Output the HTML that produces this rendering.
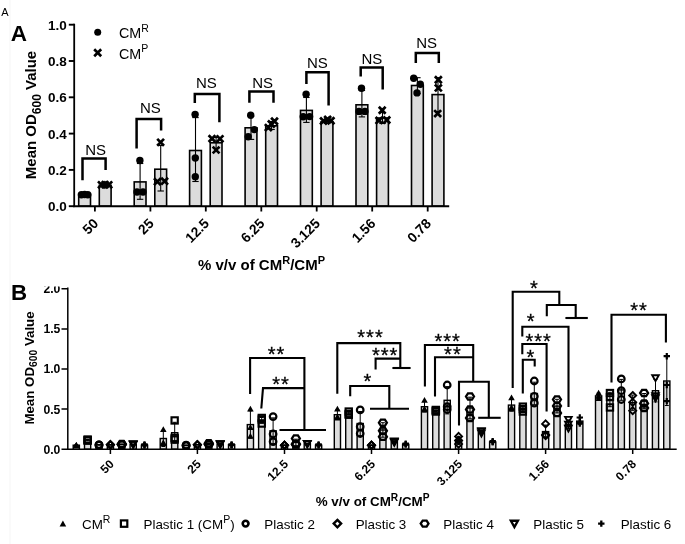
<!DOCTYPE html>
<html lang="en"><head><meta charset="utf-8"><title>Figure</title>
<style>html,body{margin:0;padding:0;background:#fff;}svg{display:block;}text{font-family:"Liberation Sans", Arial, sans-serif;fill:#000;}</style></head><body>
<svg width="685" height="544" viewBox="0 0 685 544">
<rect width="685" height="544" fill="#fff"/>
<rect x="9" y="0" width="2" height="544" fill="#fafafa"/>
<text x="1.2" y="16.2" font-size="11" font-weight="normal" text-anchor="start">A</text>
<text x="10.7" y="41.0" font-size="22.5" font-weight="bold" text-anchor="start">A</text>
<text x="36.3" y="115" font-size="15" font-weight="bold" text-anchor="middle" transform="rotate(-90 36.3 115)">Mean OD<tspan font-size="12" dy="4.3">600</tspan><tspan dy="-4.3" font-size="1">&#8203;</tspan> Value</text>
<path d="M68.8 206.2L74.2 206.2" stroke="#000" stroke-width="1.9" fill="none"/>
<text x="66.9" y="211.1" font-size="13.5" font-weight="bold" text-anchor="end">0.0</text>
<path d="M68.8 169.9L74.2 169.9" stroke="#000" stroke-width="1.9" fill="none"/>
<text x="66.9" y="174.8" font-size="13.5" font-weight="bold" text-anchor="end">0.2</text>
<path d="M68.8 133.6L74.2 133.6" stroke="#000" stroke-width="1.9" fill="none"/>
<text x="66.9" y="138.5" font-size="13.5" font-weight="bold" text-anchor="end">0.4</text>
<path d="M68.8 97.3L74.2 97.3" stroke="#000" stroke-width="1.9" fill="none"/>
<text x="66.9" y="102.2" font-size="13.5" font-weight="bold" text-anchor="end">0.6</text>
<path d="M68.8 61.0L74.2 61.0" stroke="#000" stroke-width="1.9" fill="none"/>
<text x="66.9" y="65.9" font-size="13.5" font-weight="bold" text-anchor="end">0.8</text>
<path d="M68.8 24.7L74.2 24.7" stroke="#000" stroke-width="1.9" fill="none"/>
<text x="66.9" y="29.6" font-size="13.5" font-weight="bold" text-anchor="end">1.0</text>
<path d="M94.9 206.2L94.9 211.5" stroke="#000" stroke-width="1.8" fill="none"/>
<text x="99.1" y="224.4" font-size="13.8" font-weight="bold" text-anchor="end" transform="rotate(-45 99.1 224.4)">50</text>
<path d="M150.4 206.2L150.4 211.5" stroke="#000" stroke-width="1.8" fill="none"/>
<text x="154.6" y="224.4" font-size="13.8" font-weight="bold" text-anchor="end" transform="rotate(-45 154.6 224.4)">25</text>
<path d="M205.8 206.2L205.8 211.5" stroke="#000" stroke-width="1.8" fill="none"/>
<text x="210.0" y="224.4" font-size="13.8" font-weight="bold" text-anchor="end" transform="rotate(-45 210.0 224.4)">12.5</text>
<path d="M261.3 206.2L261.3 211.5" stroke="#000" stroke-width="1.8" fill="none"/>
<text x="265.5" y="224.4" font-size="13.8" font-weight="bold" text-anchor="end" transform="rotate(-45 265.5 224.4)">6.25</text>
<path d="M316.7 206.2L316.7 211.5" stroke="#000" stroke-width="1.8" fill="none"/>
<text x="320.9" y="224.4" font-size="13.8" font-weight="bold" text-anchor="end" transform="rotate(-45 320.9 224.4)">3.125</text>
<path d="M372.2 206.2L372.2 211.5" stroke="#000" stroke-width="1.8" fill="none"/>
<text x="376.4" y="224.4" font-size="13.8" font-weight="bold" text-anchor="end" transform="rotate(-45 376.4 224.4)">1.56</text>
<path d="M427.7 206.2L427.7 211.5" stroke="#000" stroke-width="1.8" fill="none"/>
<text x="431.9" y="224.4" font-size="13.8" font-weight="bold" text-anchor="end" transform="rotate(-45 431.9 224.4)">0.78</text>
<rect x="78.7" y="194.4" width="11.8" height="11.8" fill="#dcdcdc" stroke="#000" stroke-width="1.6"/>
<rect x="99.3" y="185.3" width="11.8" height="20.9" fill="#dcdcdc" stroke="#000" stroke-width="1.6"/>
<rect x="134.2" y="181.9" width="11.8" height="24.3" fill="#dcdcdc" stroke="#000" stroke-width="1.6"/>
<rect x="154.8" y="169.2" width="11.8" height="37.0" fill="#dcdcdc" stroke="#000" stroke-width="1.6"/>
<rect x="189.6" y="150.5" width="11.8" height="55.7" fill="#dcdcdc" stroke="#000" stroke-width="1.6"/>
<rect x="210.2" y="142.8" width="11.8" height="63.4" fill="#dcdcdc" stroke="#000" stroke-width="1.6"/>
<rect x="245.1" y="127.8" width="11.8" height="78.4" fill="#dcdcdc" stroke="#000" stroke-width="1.6"/>
<rect x="265.7" y="125.8" width="11.8" height="80.4" fill="#dcdcdc" stroke="#000" stroke-width="1.6"/>
<rect x="300.5" y="110.4" width="11.8" height="95.8" fill="#dcdcdc" stroke="#000" stroke-width="1.6"/>
<rect x="321.1" y="121.8" width="11.8" height="84.4" fill="#dcdcdc" stroke="#000" stroke-width="1.6"/>
<rect x="356.0" y="104.8" width="11.8" height="101.4" fill="#dcdcdc" stroke="#000" stroke-width="1.6"/>
<rect x="376.6" y="118.0" width="11.8" height="88.2" fill="#dcdcdc" stroke="#000" stroke-width="1.6"/>
<rect x="411.5" y="85.5" width="11.8" height="120.7" fill="#dcdcdc" stroke="#000" stroke-width="1.6"/>
<rect x="432.1" y="94.6" width="11.8" height="111.6" fill="#dcdcdc" stroke="#000" stroke-width="1.6"/>
<path d="M84.6 193.4L84.6 195.6" stroke="#000" stroke-width="1.1" fill="none"/>
<path d="M81.4 193.4L87.8 193.4" stroke="#000" stroke-width="1.1" fill="none"/>
<path d="M81.4 195.6L87.8 195.6" stroke="#000" stroke-width="1.1" fill="none"/>
<path d="M105.2 184.2L105.2 186.4" stroke="#000" stroke-width="1.1" fill="none"/>
<path d="M102.0 184.2L108.4 184.2" stroke="#000" stroke-width="1.1" fill="none"/>
<path d="M102.0 186.4L108.4 186.4" stroke="#000" stroke-width="1.1" fill="none"/>
<path d="M140.1 163.5L140.1 199.3" stroke="#000" stroke-width="1.1" fill="none"/>
<path d="M136.9 163.5L143.3 163.5" stroke="#000" stroke-width="1.1" fill="none"/>
<path d="M136.9 199.3L143.3 199.3" stroke="#000" stroke-width="1.1" fill="none"/>
<path d="M160.7 145.5L160.7 191.0" stroke="#000" stroke-width="1.1" fill="none"/>
<path d="M157.5 145.5L163.9 145.5" stroke="#000" stroke-width="1.1" fill="none"/>
<path d="M157.5 191.0L163.9 191.0" stroke="#000" stroke-width="1.1" fill="none"/>
<path d="M195.5 117.6L195.5 181.5" stroke="#000" stroke-width="1.1" fill="none"/>
<path d="M192.3 117.6L198.7 117.6" stroke="#000" stroke-width="1.1" fill="none"/>
<path d="M192.3 181.5L198.7 181.5" stroke="#000" stroke-width="1.1" fill="none"/>
<path d="M216.1 137.5L216.1 148.5" stroke="#000" stroke-width="1.1" fill="none"/>
<path d="M212.9 137.5L219.3 137.5" stroke="#000" stroke-width="1.1" fill="none"/>
<path d="M212.9 148.5L219.3 148.5" stroke="#000" stroke-width="1.1" fill="none"/>
<path d="M251.0 116.5L251.0 139.4" stroke="#000" stroke-width="1.1" fill="none"/>
<path d="M247.8 116.5L254.2 116.5" stroke="#000" stroke-width="1.1" fill="none"/>
<path d="M247.8 139.4L254.2 139.4" stroke="#000" stroke-width="1.1" fill="none"/>
<path d="M271.6 121.5L271.6 129.5" stroke="#000" stroke-width="1.1" fill="none"/>
<path d="M268.4 121.5L274.8 121.5" stroke="#000" stroke-width="1.1" fill="none"/>
<path d="M268.4 129.5L274.8 129.5" stroke="#000" stroke-width="1.1" fill="none"/>
<path d="M306.4 97.5L306.4 122.4" stroke="#000" stroke-width="1.1" fill="none"/>
<path d="M303.2 97.5L309.6 97.5" stroke="#000" stroke-width="1.1" fill="none"/>
<path d="M303.2 122.4L309.6 122.4" stroke="#000" stroke-width="1.1" fill="none"/>
<path d="M327.0 120.2L327.0 123.4" stroke="#000" stroke-width="1.1" fill="none"/>
<path d="M323.8 120.2L330.2 120.2" stroke="#000" stroke-width="1.1" fill="none"/>
<path d="M323.8 123.4L330.2 123.4" stroke="#000" stroke-width="1.1" fill="none"/>
<path d="M361.9 90.5L361.9 116.9" stroke="#000" stroke-width="1.1" fill="none"/>
<path d="M358.7 90.5L365.1 90.5" stroke="#000" stroke-width="1.1" fill="none"/>
<path d="M358.7 116.9L365.1 116.9" stroke="#000" stroke-width="1.1" fill="none"/>
<path d="M382.5 112.5L382.5 123.5" stroke="#000" stroke-width="1.1" fill="none"/>
<path d="M379.3 112.5L385.7 112.5" stroke="#000" stroke-width="1.1" fill="none"/>
<path d="M379.3 123.5L385.7 123.5" stroke="#000" stroke-width="1.1" fill="none"/>
<path d="M417.4 77.7L417.4 93.5" stroke="#000" stroke-width="1.1" fill="none"/>
<path d="M414.2 77.7L420.6 77.7" stroke="#000" stroke-width="1.1" fill="none"/>
<path d="M414.2 93.5L420.6 93.5" stroke="#000" stroke-width="1.1" fill="none"/>
<path d="M438.0 77.7L438.0 111.5" stroke="#000" stroke-width="1.1" fill="none"/>
<path d="M434.8 77.7L441.2 77.7" stroke="#000" stroke-width="1.1" fill="none"/>
<path d="M434.8 111.5L441.2 111.5" stroke="#000" stroke-width="1.1" fill="none"/>
<circle cx="81.4" cy="194.7" r="3.7" fill="#000"/>
<circle cx="84.6" cy="194.5" r="3.7" fill="#000"/>
<circle cx="87.8" cy="194.7" r="3.7" fill="#000"/>
<path d="M98.0 181.4L105.0 188.2M98.0 188.2L105.0 181.4" stroke="#000" stroke-width="2.7" fill="none"/>
<path d="M101.6 181.2L108.5 188.0M101.6 188.0L108.5 181.2" stroke="#000" stroke-width="2.7" fill="none"/>
<path d="M105.2 181.4L112.2 188.2M105.2 188.2L112.2 181.4" stroke="#000" stroke-width="2.7" fill="none"/>
<circle cx="139.9" cy="160.5" r="3.7" fill="#000"/>
<circle cx="137.0" cy="192.0" r="3.7" fill="#000"/>
<circle cx="143.0" cy="192.0" r="3.7" fill="#000"/>
<path d="M157.2 138.9L164.0 145.8M157.2 145.8L164.0 138.9" stroke="#000" stroke-width="2.7" fill="none"/>
<path d="M154.0 178.2L160.8 185.1M154.0 185.1L160.8 178.2" stroke="#000" stroke-width="2.7" fill="none"/>
<path d="M161.2 177.8L168.0 184.6M161.2 184.6L168.0 177.8" stroke="#000" stroke-width="2.7" fill="none"/>
<circle cx="195.1" cy="114.4" r="3.7" fill="#000"/>
<circle cx="195.3" cy="158.0" r="3.7" fill="#000"/>
<circle cx="195.3" cy="176.8" r="3.7" fill="#000"/>
<path d="M208.6 135.2L215.4 142.0M208.6 142.0L215.4 135.2" stroke="#000" stroke-width="2.7" fill="none"/>
<path d="M216.6 135.4L223.4 142.2M216.6 142.2L223.4 135.4" stroke="#000" stroke-width="2.7" fill="none"/>
<path d="M212.7 146.6L219.5 153.4M212.7 153.4L219.5 146.6" stroke="#000" stroke-width="2.7" fill="none"/>
<circle cx="250.7" cy="115.2" r="3.7" fill="#000"/>
<circle cx="254.3" cy="129.6" r="3.7" fill="#000"/>
<circle cx="248.2" cy="136.8" r="3.7" fill="#000"/>
<path d="M264.9 124.1L271.8 131.0M264.9 131.0L271.8 124.1" stroke="#000" stroke-width="2.7" fill="none"/>
<path d="M267.9 120.5L274.8 127.5M267.9 127.5L274.8 120.5" stroke="#000" stroke-width="2.7" fill="none"/>
<path d="M271.1 117.8L277.9 124.8M271.1 124.8L277.9 117.8" stroke="#000" stroke-width="2.7" fill="none"/>
<circle cx="306.1" cy="94.3" r="3.7" fill="#000"/>
<circle cx="303.2" cy="116.8" r="3.7" fill="#000"/>
<circle cx="309.6" cy="116.6" r="3.7" fill="#000"/>
<path d="M320.1 117.5L326.9 124.5M320.1 124.5L326.9 117.5" stroke="#000" stroke-width="2.7" fill="none"/>
<path d="M324.2 116.0L331.1 122.9M324.2 122.9L331.1 116.0" stroke="#000" stroke-width="2.7" fill="none"/>
<path d="M327.6 117.3L334.4 124.2M327.6 124.2L334.4 117.3" stroke="#000" stroke-width="2.7" fill="none"/>
<circle cx="361.5" cy="88.3" r="3.7" fill="#000"/>
<circle cx="359.0" cy="111.4" r="3.7" fill="#000"/>
<circle cx="364.9" cy="111.4" r="3.7" fill="#000"/>
<path d="M378.8 106.8L385.6 113.8M378.8 113.8L385.6 106.8" stroke="#000" stroke-width="2.7" fill="none"/>
<path d="M375.6 117.0L382.4 123.9M375.6 123.9L382.4 117.0" stroke="#000" stroke-width="2.7" fill="none"/>
<path d="M383.4 116.5L390.2 123.5M383.4 123.5L390.2 116.5" stroke="#000" stroke-width="2.7" fill="none"/>
<circle cx="413.7" cy="78.3" r="3.7" fill="#000"/>
<circle cx="420.3" cy="84.3" r="3.7" fill="#000"/>
<circle cx="417.0" cy="92.9" r="3.7" fill="#000"/>
<path d="M434.9 76.2L441.8 83.2M434.9 83.2L441.8 76.2" stroke="#000" stroke-width="2.7" fill="none"/>
<path d="M434.9 84.5L441.8 91.4M434.9 91.4L441.8 84.5" stroke="#000" stroke-width="2.7" fill="none"/>
<path d="M434.2 110.1L441.1 117.0M434.2 117.0L441.1 110.1" stroke="#000" stroke-width="2.7" fill="none"/>
<path d="M74.2 23.7L74.2 207.1" stroke="#000" stroke-width="1.8" fill="none"/>
<path d="M73.3 206.2L449.2 206.2" stroke="#000" stroke-width="1.9" fill="none"/>
<text x="198" y="270" font-size="15" font-weight="bold">% v/v of CM<tspan font-size="11" dy="-6">R</tspan><tspan dy="6" font-size="1">&#8203;</tspan>/CM<tspan font-size="11" dy="-6">P</tspan><tspan dy="6" font-size="1">&#8203;</tspan></text>
<circle cx="97.7" cy="32.3" r="3.5" fill="#000"/>
<path d="M94.2 49.3L101.2 56.2M94.2 56.2L101.2 49.3" stroke="#000" stroke-width="2.7" fill="none"/>
<text x="119" y="38.2" font-size="14.3">CM<tspan font-size="10.5" dy="-6.3">R</tspan><tspan dy="6.3" font-size="1">&#8203;</tspan></text>
<text x="119" y="58.7" font-size="14.3">CM<tspan font-size="10.5" dy="-6.3">P</tspan><tspan dy="6.3" font-size="1">&#8203;</tspan></text>
<path d="M82.5 180.2L82.5 158.4L105.6 158.4L105.6 170.1" stroke="#000" stroke-width="2.5" fill="none" stroke-linejoin="miter"/>
<text x="95.7" y="154.9" font-size="15" font-weight="normal" text-anchor="middle">NS</text>
<path d="M136.6 148.4L136.6 119.0L161.1 119.0L161.1 130.4" stroke="#000" stroke-width="2.5" fill="none" stroke-linejoin="miter"/>
<text x="150.3" y="113.4" font-size="15" font-weight="normal" text-anchor="middle">NS</text>
<path d="M194.8 103.1L194.8 94.1L219.4 94.1L219.4 122.2" stroke="#000" stroke-width="2.5" fill="none" stroke-linejoin="miter"/>
<text x="206.3" y="87.9" font-size="15" font-weight="normal" text-anchor="middle">NS</text>
<path d="M249.4 102.7L249.4 91.6L273.5 91.6L273.5 102.7" stroke="#000" stroke-width="2.5" fill="none" stroke-linejoin="miter"/>
<text x="262.6" y="87.6" font-size="15" font-weight="normal" text-anchor="middle">NS</text>
<path d="M306.4 83.9L306.4 72.2L328.6 72.2L328.6 105.6" stroke="#000" stroke-width="2.5" fill="none" stroke-linejoin="miter"/>
<text x="317.3" y="67.8" font-size="15" font-weight="normal" text-anchor="middle">NS</text>
<path d="M360.7 76.4L360.7 67.6L382.7 67.6L382.7 89.6" stroke="#000" stroke-width="2.5" fill="none" stroke-linejoin="miter"/>
<text x="371.8" y="63.5" font-size="15" font-weight="normal" text-anchor="middle">NS</text>
<path d="M415.8 63.1L415.8 52.9L438.8 52.9L438.8 63.1" stroke="#000" stroke-width="2.5" fill="none" stroke-linejoin="miter"/>
<text x="426.6" y="48.2" font-size="15" font-weight="normal" text-anchor="middle">NS</text>
<g clip-path="url(#clipB)">
<defs><clipPath id="clipB"><rect x="0" y="286.6" width="685" height="260"/></clipPath></defs>
<path d="M61.5 449.2L67.8 449.2" stroke="#000" stroke-width="1.5" fill="none"/>
<text x="60.4" y="453.6" font-size="12.2" font-weight="bold" text-anchor="end">0.0</text>
<path d="M61.5 409.1L67.8 409.1" stroke="#000" stroke-width="1.5" fill="none"/>
<text x="60.4" y="413.5" font-size="12.2" font-weight="bold" text-anchor="end">0.5</text>
<path d="M61.5 369.0L67.8 369.0" stroke="#000" stroke-width="1.5" fill="none"/>
<text x="60.4" y="373.4" font-size="12.2" font-weight="bold" text-anchor="end">1.0</text>
<path d="M61.5 328.9L67.8 328.9" stroke="#000" stroke-width="1.5" fill="none"/>
<text x="60.4" y="333.3" font-size="12.2" font-weight="bold" text-anchor="end">1.5</text>
<path d="M61.5 288.8L67.8 288.8" stroke="#000" stroke-width="1.5" fill="none"/>
<text x="60.4" y="293.2" font-size="12.2" font-weight="bold" text-anchor="end">2.0</text>
</g>
<text x="10.9" y="300.4" font-size="22.3" font-weight="bold" text-anchor="start">B</text>
<text x="33.7" y="368" font-size="13.3" font-weight="bold" text-anchor="middle" transform="rotate(-90 33.7 368)">Mean OD<tspan font-size="10.3" dy="3.2">600</tspan><tspan dy="-3.2" font-size="1">&#8203;</tspan> Value</text>
<path d="M110.4 449.2L110.4 454.0" stroke="#000" stroke-width="1.5" fill="none"/>
<text x="114.8" y="464.9" font-size="12" font-weight="bold" text-anchor="end" transform="rotate(-45 114.8 464.9)">50</text>
<path d="M197.4 449.2L197.4 454.0" stroke="#000" stroke-width="1.5" fill="none"/>
<text x="201.8" y="464.9" font-size="12" font-weight="bold" text-anchor="end" transform="rotate(-45 201.8 464.9)">25</text>
<path d="M284.5 449.2L284.5 454.0" stroke="#000" stroke-width="1.5" fill="none"/>
<text x="288.9" y="464.9" font-size="12" font-weight="bold" text-anchor="end" transform="rotate(-45 288.9 464.9)">12.5</text>
<path d="M371.5 449.2L371.5 454.0" stroke="#000" stroke-width="1.5" fill="none"/>
<text x="375.9" y="464.9" font-size="12" font-weight="bold" text-anchor="end" transform="rotate(-45 375.9 464.9)">6.25</text>
<path d="M458.6 449.2L458.6 454.0" stroke="#000" stroke-width="1.5" fill="none"/>
<text x="463.0" y="464.9" font-size="12" font-weight="bold" text-anchor="end" transform="rotate(-45 463.0 464.9)">3.125</text>
<path d="M545.6 449.2L545.6 454.0" stroke="#000" stroke-width="1.5" fill="none"/>
<text x="550.0" y="464.9" font-size="12" font-weight="bold" text-anchor="end" transform="rotate(-45 550.0 464.9)">1.56</text>
<path d="M632.7 449.2L632.7 454.0" stroke="#000" stroke-width="1.5" fill="none"/>
<text x="637.1" y="464.9" font-size="12" font-weight="bold" text-anchor="end" transform="rotate(-45 637.1 464.9)">0.78</text>
<rect x="73.2" y="445.2" width="6.2" height="4.0" fill="#dcdcdc" stroke="#000" stroke-width="1.4"/>
<rect x="84.5" y="440.1" width="6.2" height="9.1" fill="#dcdcdc" stroke="#000" stroke-width="1.4"/>
<rect x="95.9" y="444.8" width="6.2" height="4.4" fill="#dcdcdc" stroke="#000" stroke-width="1.4"/>
<rect x="107.3" y="444.8" width="6.2" height="4.4" fill="#dcdcdc" stroke="#000" stroke-width="1.4"/>
<rect x="118.7" y="444.4" width="6.2" height="4.8" fill="#dcdcdc" stroke="#000" stroke-width="1.4"/>
<rect x="130.1" y="444.4" width="6.2" height="4.8" fill="#dcdcdc" stroke="#000" stroke-width="1.4"/>
<rect x="141.4" y="445.2" width="6.2" height="4.0" fill="#dcdcdc" stroke="#000" stroke-width="1.4"/>
<rect x="160.2" y="438.5" width="6.2" height="10.7" fill="#dcdcdc" stroke="#000" stroke-width="1.4"/>
<rect x="171.6" y="432.7" width="6.2" height="16.5" fill="#dcdcdc" stroke="#000" stroke-width="1.4"/>
<rect x="183.0" y="445.4" width="6.2" height="3.8" fill="#dcdcdc" stroke="#000" stroke-width="1.4"/>
<rect x="194.3" y="444.7" width="6.2" height="4.5" fill="#dcdcdc" stroke="#000" stroke-width="1.4"/>
<rect x="205.7" y="443.7" width="6.2" height="5.5" fill="#dcdcdc" stroke="#000" stroke-width="1.4"/>
<rect x="217.1" y="444.0" width="6.2" height="5.2" fill="#dcdcdc" stroke="#000" stroke-width="1.4"/>
<rect x="228.5" y="444.7" width="6.2" height="4.5" fill="#dcdcdc" stroke="#000" stroke-width="1.4"/>
<rect x="247.3" y="424.6" width="6.2" height="24.6" fill="#dcdcdc" stroke="#000" stroke-width="1.4"/>
<rect x="258.6" y="420.3" width="6.2" height="28.9" fill="#dcdcdc" stroke="#000" stroke-width="1.4"/>
<rect x="270.0" y="430.8" width="6.2" height="18.4" fill="#dcdcdc" stroke="#000" stroke-width="1.4"/>
<rect x="281.4" y="445.2" width="6.2" height="4.0" fill="#dcdcdc" stroke="#000" stroke-width="1.4"/>
<rect x="292.8" y="442.4" width="6.2" height="6.8" fill="#dcdcdc" stroke="#000" stroke-width="1.4"/>
<rect x="304.2" y="443.6" width="6.2" height="5.6" fill="#dcdcdc" stroke="#000" stroke-width="1.4"/>
<rect x="315.5" y="445.2" width="6.2" height="4.0" fill="#dcdcdc" stroke="#000" stroke-width="1.4"/>
<rect x="334.3" y="414.7" width="6.2" height="34.5" fill="#dcdcdc" stroke="#000" stroke-width="1.4"/>
<rect x="345.7" y="413.1" width="6.2" height="36.1" fill="#dcdcdc" stroke="#000" stroke-width="1.4"/>
<rect x="357.1" y="423.5" width="6.2" height="25.7" fill="#dcdcdc" stroke="#000" stroke-width="1.4"/>
<rect x="368.4" y="445.2" width="6.2" height="4.0" fill="#dcdcdc" stroke="#000" stroke-width="1.4"/>
<rect x="379.8" y="430.0" width="6.2" height="19.2" fill="#dcdcdc" stroke="#000" stroke-width="1.4"/>
<rect x="391.2" y="441.6" width="6.2" height="7.6" fill="#dcdcdc" stroke="#000" stroke-width="1.4"/>
<rect x="402.6" y="444.4" width="6.2" height="4.8" fill="#dcdcdc" stroke="#000" stroke-width="1.4"/>
<rect x="421.4" y="406.7" width="6.2" height="42.5" fill="#dcdcdc" stroke="#000" stroke-width="1.4"/>
<rect x="432.7" y="410.7" width="6.2" height="38.5" fill="#dcdcdc" stroke="#000" stroke-width="1.4"/>
<rect x="444.1" y="400.3" width="6.2" height="48.9" fill="#dcdcdc" stroke="#000" stroke-width="1.4"/>
<rect x="455.5" y="440.4" width="6.2" height="8.8" fill="#dcdcdc" stroke="#000" stroke-width="1.4"/>
<rect x="466.9" y="408.0" width="6.2" height="41.2" fill="#dcdcdc" stroke="#000" stroke-width="1.4"/>
<rect x="478.3" y="432.0" width="6.2" height="17.2" fill="#dcdcdc" stroke="#000" stroke-width="1.4"/>
<rect x="489.6" y="442.0" width="6.2" height="7.2" fill="#dcdcdc" stroke="#000" stroke-width="1.4"/>
<rect x="508.4" y="405.1" width="6.2" height="44.1" fill="#dcdcdc" stroke="#000" stroke-width="1.4"/>
<rect x="519.8" y="409.1" width="6.2" height="40.1" fill="#dcdcdc" stroke="#000" stroke-width="1.4"/>
<rect x="531.2" y="393.5" width="6.2" height="55.7" fill="#dcdcdc" stroke="#000" stroke-width="1.4"/>
<rect x="542.5" y="431.6" width="6.2" height="17.6" fill="#dcdcdc" stroke="#000" stroke-width="1.4"/>
<rect x="553.9" y="406.1" width="6.2" height="43.1" fill="#dcdcdc" stroke="#000" stroke-width="1.4"/>
<rect x="565.3" y="424.3" width="6.2" height="24.9" fill="#dcdcdc" stroke="#000" stroke-width="1.4"/>
<rect x="576.7" y="421.1" width="6.2" height="28.1" fill="#dcdcdc" stroke="#000" stroke-width="1.4"/>
<rect x="595.5" y="395.9" width="6.2" height="53.3" fill="#dcdcdc" stroke="#000" stroke-width="1.4"/>
<rect x="606.8" y="399.5" width="6.2" height="49.7" fill="#dcdcdc" stroke="#000" stroke-width="1.4"/>
<rect x="618.2" y="389.9" width="6.2" height="59.3" fill="#dcdcdc" stroke="#000" stroke-width="1.4"/>
<rect x="629.6" y="402.7" width="6.2" height="46.5" fill="#dcdcdc" stroke="#000" stroke-width="1.4"/>
<rect x="641.0" y="401.1" width="6.2" height="48.1" fill="#dcdcdc" stroke="#000" stroke-width="1.4"/>
<rect x="652.4" y="390.7" width="6.2" height="58.5" fill="#dcdcdc" stroke="#000" stroke-width="1.4"/>
<rect x="663.7" y="381.0" width="6.2" height="68.2" fill="#dcdcdc" stroke="#000" stroke-width="1.4"/>
<path d="M76.3 444.8L76.3 445.6" stroke="#000" stroke-width="1" fill="none"/>
<path d="M74.3 444.8L78.3 444.8" stroke="#000" stroke-width="1" fill="none"/>
<path d="M74.3 445.6L78.3 445.6" stroke="#000" stroke-width="1" fill="none"/>
<path d="M87.6 439.5L87.6 440.8" stroke="#000" stroke-width="1" fill="none"/>
<path d="M85.6 439.5L89.6 439.5" stroke="#000" stroke-width="1" fill="none"/>
<path d="M85.6 440.8L89.6 440.8" stroke="#000" stroke-width="1" fill="none"/>
<path d="M99.0 444.5L99.0 445.1" stroke="#000" stroke-width="1" fill="none"/>
<path d="M97.0 444.5L101.0 444.5" stroke="#000" stroke-width="1" fill="none"/>
<path d="M97.0 445.1L101.0 445.1" stroke="#000" stroke-width="1" fill="none"/>
<path d="M110.4 444.5L110.4 445.1" stroke="#000" stroke-width="1" fill="none"/>
<path d="M108.4 444.5L112.4 444.5" stroke="#000" stroke-width="1" fill="none"/>
<path d="M108.4 445.1L112.4 445.1" stroke="#000" stroke-width="1" fill="none"/>
<path d="M121.8 444.0L121.8 444.8" stroke="#000" stroke-width="1" fill="none"/>
<path d="M119.8 444.0L123.8 444.0" stroke="#000" stroke-width="1" fill="none"/>
<path d="M119.8 444.8L123.8 444.8" stroke="#000" stroke-width="1" fill="none"/>
<path d="M133.2 444.0L133.2 444.8" stroke="#000" stroke-width="1" fill="none"/>
<path d="M131.2 444.0L135.2 444.0" stroke="#000" stroke-width="1" fill="none"/>
<path d="M131.2 444.8L135.2 444.8" stroke="#000" stroke-width="1" fill="none"/>
<path d="M144.5 444.4L144.5 446.0" stroke="#000" stroke-width="1" fill="none"/>
<path d="M142.5 444.4L146.5 444.4" stroke="#000" stroke-width="1" fill="none"/>
<path d="M142.5 446.0L146.5 446.0" stroke="#000" stroke-width="1" fill="none"/>
<path d="M163.3 430.4L163.3 446.5" stroke="#000" stroke-width="1" fill="none"/>
<path d="M161.3 430.4L165.3 430.4" stroke="#000" stroke-width="1" fill="none"/>
<path d="M161.3 446.5L165.3 446.5" stroke="#000" stroke-width="1" fill="none"/>
<path d="M174.7 422.3L174.7 443.1" stroke="#000" stroke-width="1" fill="none"/>
<path d="M172.7 422.3L176.7 422.3" stroke="#000" stroke-width="1" fill="none"/>
<path d="M172.7 443.1L176.7 443.1" stroke="#000" stroke-width="1" fill="none"/>
<path d="M186.1 445.0L186.1 445.7" stroke="#000" stroke-width="1" fill="none"/>
<path d="M184.1 445.0L188.1 445.0" stroke="#000" stroke-width="1" fill="none"/>
<path d="M184.1 445.7L188.1 445.7" stroke="#000" stroke-width="1" fill="none"/>
<path d="M197.4 444.4L197.4 445.0" stroke="#000" stroke-width="1" fill="none"/>
<path d="M195.4 444.4L199.4 444.4" stroke="#000" stroke-width="1" fill="none"/>
<path d="M195.4 445.0L199.4 445.0" stroke="#000" stroke-width="1" fill="none"/>
<path d="M208.8 442.9L208.8 444.5" stroke="#000" stroke-width="1" fill="none"/>
<path d="M206.8 442.9L210.8 442.9" stroke="#000" stroke-width="1" fill="none"/>
<path d="M206.8 444.5L210.8 444.5" stroke="#000" stroke-width="1" fill="none"/>
<path d="M220.2 443.6L220.2 444.4" stroke="#000" stroke-width="1" fill="none"/>
<path d="M218.2 443.6L222.2 443.6" stroke="#000" stroke-width="1" fill="none"/>
<path d="M218.2 444.4L222.2 444.4" stroke="#000" stroke-width="1" fill="none"/>
<path d="M231.6 444.3L231.6 445.1" stroke="#000" stroke-width="1" fill="none"/>
<path d="M229.6 444.3L233.6 444.3" stroke="#000" stroke-width="1" fill="none"/>
<path d="M229.6 445.1L233.6 445.1" stroke="#000" stroke-width="1" fill="none"/>
<path d="M250.4 410.9L250.4 438.2" stroke="#000" stroke-width="1" fill="none"/>
<path d="M248.4 410.9L252.4 410.9" stroke="#000" stroke-width="1" fill="none"/>
<path d="M248.4 438.2L252.4 438.2" stroke="#000" stroke-width="1" fill="none"/>
<path d="M261.7 417.5L261.7 423.1" stroke="#000" stroke-width="1" fill="none"/>
<path d="M259.7 417.5L263.7 417.5" stroke="#000" stroke-width="1" fill="none"/>
<path d="M259.7 423.1L263.7 423.1" stroke="#000" stroke-width="1" fill="none"/>
<path d="M273.1 417.9L273.1 443.6" stroke="#000" stroke-width="1" fill="none"/>
<path d="M271.1 417.9L275.1 417.9" stroke="#000" stroke-width="1" fill="none"/>
<path d="M271.1 443.6L275.1 443.6" stroke="#000" stroke-width="1" fill="none"/>
<path d="M284.5 444.9L284.5 445.5" stroke="#000" stroke-width="1" fill="none"/>
<path d="M282.5 444.9L286.5 444.9" stroke="#000" stroke-width="1" fill="none"/>
<path d="M282.5 445.5L286.5 445.5" stroke="#000" stroke-width="1" fill="none"/>
<path d="M295.9 439.2L295.9 445.6" stroke="#000" stroke-width="1" fill="none"/>
<path d="M293.9 439.2L297.9 439.2" stroke="#000" stroke-width="1" fill="none"/>
<path d="M293.9 445.6L297.9 445.6" stroke="#000" stroke-width="1" fill="none"/>
<path d="M307.3 443.2L307.3 444.0" stroke="#000" stroke-width="1" fill="none"/>
<path d="M305.3 443.2L309.3 443.2" stroke="#000" stroke-width="1" fill="none"/>
<path d="M305.3 444.0L309.3 444.0" stroke="#000" stroke-width="1" fill="none"/>
<path d="M318.6 444.5L318.6 445.8" stroke="#000" stroke-width="1" fill="none"/>
<path d="M316.6 444.5L320.6 444.5" stroke="#000" stroke-width="1" fill="none"/>
<path d="M316.6 445.8L320.6 445.8" stroke="#000" stroke-width="1" fill="none"/>
<path d="M337.4 409.9L337.4 419.5" stroke="#000" stroke-width="1" fill="none"/>
<path d="M335.4 409.9L339.4 409.9" stroke="#000" stroke-width="1" fill="none"/>
<path d="M335.4 419.5L339.4 419.5" stroke="#000" stroke-width="1" fill="none"/>
<path d="M348.8 411.5L348.8 414.7" stroke="#000" stroke-width="1" fill="none"/>
<path d="M346.8 411.5L350.8 411.5" stroke="#000" stroke-width="1" fill="none"/>
<path d="M346.8 414.7L350.8 414.7" stroke="#000" stroke-width="1" fill="none"/>
<path d="M360.2 411.5L360.2 435.6" stroke="#000" stroke-width="1" fill="none"/>
<path d="M358.2 411.5L362.2 411.5" stroke="#000" stroke-width="1" fill="none"/>
<path d="M358.2 435.6L362.2 435.6" stroke="#000" stroke-width="1" fill="none"/>
<path d="M371.5 444.9L371.5 445.5" stroke="#000" stroke-width="1" fill="none"/>
<path d="M369.5 444.9L373.5 444.9" stroke="#000" stroke-width="1" fill="none"/>
<path d="M369.5 445.5L373.5 445.5" stroke="#000" stroke-width="1" fill="none"/>
<path d="M382.9 422.7L382.9 437.2" stroke="#000" stroke-width="1" fill="none"/>
<path d="M380.9 422.7L384.9 422.7" stroke="#000" stroke-width="1" fill="none"/>
<path d="M380.9 437.2L384.9 437.2" stroke="#000" stroke-width="1" fill="none"/>
<path d="M394.3 440.8L394.3 442.4" stroke="#000" stroke-width="1" fill="none"/>
<path d="M392.3 440.8L396.3 440.8" stroke="#000" stroke-width="1" fill="none"/>
<path d="M392.3 442.4L396.3 442.4" stroke="#000" stroke-width="1" fill="none"/>
<path d="M405.7 443.7L405.7 445.0" stroke="#000" stroke-width="1" fill="none"/>
<path d="M403.7 443.7L407.7 443.7" stroke="#000" stroke-width="1" fill="none"/>
<path d="M403.7 445.0L407.7 445.0" stroke="#000" stroke-width="1" fill="none"/>
<path d="M424.5 401.5L424.5 411.9" stroke="#000" stroke-width="1" fill="none"/>
<path d="M422.5 401.5L426.5 401.5" stroke="#000" stroke-width="1" fill="none"/>
<path d="M422.5 411.9L426.5 411.9" stroke="#000" stroke-width="1" fill="none"/>
<path d="M435.8 409.9L435.8 411.5" stroke="#000" stroke-width="1" fill="none"/>
<path d="M433.8 409.9L437.8 409.9" stroke="#000" stroke-width="1" fill="none"/>
<path d="M433.8 411.5L437.8 411.5" stroke="#000" stroke-width="1" fill="none"/>
<path d="M447.2 386.6L447.2 413.9" stroke="#000" stroke-width="1" fill="none"/>
<path d="M445.2 386.6L449.2 386.6" stroke="#000" stroke-width="1" fill="none"/>
<path d="M445.2 413.9L449.2 413.9" stroke="#000" stroke-width="1" fill="none"/>
<path d="M458.6 436.4L458.6 444.4" stroke="#000" stroke-width="1" fill="none"/>
<path d="M456.6 436.4L460.6 436.4" stroke="#000" stroke-width="1" fill="none"/>
<path d="M456.6 444.4L460.6 444.4" stroke="#000" stroke-width="1" fill="none"/>
<path d="M470.0 397.2L470.0 418.8" stroke="#000" stroke-width="1" fill="none"/>
<path d="M468.0 397.2L472.0 397.2" stroke="#000" stroke-width="1" fill="none"/>
<path d="M468.0 418.8L472.0 418.8" stroke="#000" stroke-width="1" fill="none"/>
<path d="M481.4 430.8L481.4 433.2" stroke="#000" stroke-width="1" fill="none"/>
<path d="M479.4 430.8L483.4 430.8" stroke="#000" stroke-width="1" fill="none"/>
<path d="M479.4 433.2L483.4 433.2" stroke="#000" stroke-width="1" fill="none"/>
<path d="M492.7 441.2L492.7 442.8" stroke="#000" stroke-width="1" fill="none"/>
<path d="M490.7 441.2L494.7 441.2" stroke="#000" stroke-width="1" fill="none"/>
<path d="M490.7 442.8L494.7 442.8" stroke="#000" stroke-width="1" fill="none"/>
<path d="M511.5 399.1L511.5 411.1" stroke="#000" stroke-width="1" fill="none"/>
<path d="M509.5 399.1L513.5 399.1" stroke="#000" stroke-width="1" fill="none"/>
<path d="M509.5 411.1L513.5 411.1" stroke="#000" stroke-width="1" fill="none"/>
<path d="M522.9 406.7L522.9 411.5" stroke="#000" stroke-width="1" fill="none"/>
<path d="M520.9 406.7L524.9 406.7" stroke="#000" stroke-width="1" fill="none"/>
<path d="M520.9 411.5L524.9 411.5" stroke="#000" stroke-width="1" fill="none"/>
<path d="M534.3 382.2L534.3 404.7" stroke="#000" stroke-width="1" fill="none"/>
<path d="M532.3 382.2L536.3 382.2" stroke="#000" stroke-width="1" fill="none"/>
<path d="M532.3 404.7L536.3 404.7" stroke="#000" stroke-width="1" fill="none"/>
<path d="M545.6 425.1L545.6 438.0" stroke="#000" stroke-width="1" fill="none"/>
<path d="M543.6 425.1L547.6 425.1" stroke="#000" stroke-width="1" fill="none"/>
<path d="M543.6 438.0L547.6 438.0" stroke="#000" stroke-width="1" fill="none"/>
<path d="M557.0 399.3L557.0 412.9" stroke="#000" stroke-width="1" fill="none"/>
<path d="M555.0 399.3L559.0 399.3" stroke="#000" stroke-width="1" fill="none"/>
<path d="M555.0 412.9L559.0 412.9" stroke="#000" stroke-width="1" fill="none"/>
<path d="M568.4 419.9L568.4 428.7" stroke="#000" stroke-width="1" fill="none"/>
<path d="M566.4 419.9L570.4 419.9" stroke="#000" stroke-width="1" fill="none"/>
<path d="M566.4 428.7L570.4 428.7" stroke="#000" stroke-width="1" fill="none"/>
<path d="M579.8 417.9L579.8 424.3" stroke="#000" stroke-width="1" fill="none"/>
<path d="M577.8 417.9L581.8 417.9" stroke="#000" stroke-width="1" fill="none"/>
<path d="M577.8 424.3L581.8 424.3" stroke="#000" stroke-width="1" fill="none"/>
<path d="M598.6 393.1L598.6 398.7" stroke="#000" stroke-width="1" fill="none"/>
<path d="M596.6 393.1L600.6 393.1" stroke="#000" stroke-width="1" fill="none"/>
<path d="M596.6 398.7L600.6 398.7" stroke="#000" stroke-width="1" fill="none"/>
<path d="M609.9 392.3L609.9 406.7" stroke="#000" stroke-width="1" fill="none"/>
<path d="M607.9 392.3L611.9 392.3" stroke="#000" stroke-width="1" fill="none"/>
<path d="M607.9 406.7L611.9 406.7" stroke="#000" stroke-width="1" fill="none"/>
<path d="M621.3 379.4L621.3 400.3" stroke="#000" stroke-width="1" fill="none"/>
<path d="M619.3 379.4L623.3 379.4" stroke="#000" stroke-width="1" fill="none"/>
<path d="M619.3 400.3L623.3 400.3" stroke="#000" stroke-width="1" fill="none"/>
<path d="M632.7 395.1L632.7 410.3" stroke="#000" stroke-width="1" fill="none"/>
<path d="M630.7 395.1L634.7 395.1" stroke="#000" stroke-width="1" fill="none"/>
<path d="M630.7 410.3L634.7 410.3" stroke="#000" stroke-width="1" fill="none"/>
<path d="M644.1 393.5L644.1 408.7" stroke="#000" stroke-width="1" fill="none"/>
<path d="M642.1 393.5L646.1 393.5" stroke="#000" stroke-width="1" fill="none"/>
<path d="M642.1 408.7L646.1 408.7" stroke="#000" stroke-width="1" fill="none"/>
<path d="M655.5 379.4L655.5 401.9" stroke="#000" stroke-width="1" fill="none"/>
<path d="M653.5 379.4L657.5 379.4" stroke="#000" stroke-width="1" fill="none"/>
<path d="M653.5 401.9L657.5 401.9" stroke="#000" stroke-width="1" fill="none"/>
<path d="M666.8 356.6L666.8 405.5" stroke="#000" stroke-width="1" fill="none"/>
<path d="M664.8 356.6L668.8 356.6" stroke="#000" stroke-width="1" fill="none"/>
<path d="M664.8 405.5L668.8 405.5" stroke="#000" stroke-width="1" fill="none"/>
<path d="M76.3 441.9L79.6 447.7L73.0 447.7Z" fill="#000"/>
<path d="M76.3 441.9L79.6 447.7L73.0 447.7Z" fill="#000"/>
<path d="M76.3 442.3L79.6 448.1L73.0 448.1Z" fill="#000"/>
<rect x="84.5" y="436.4" width="6.3" height="6.3" fill="none" stroke="#000" stroke-width="2.1"/>
<rect x="84.5" y="437.0" width="6.3" height="6.3" fill="none" stroke="#000" stroke-width="2.1"/>
<rect x="84.5" y="437.5" width="6.3" height="6.3" fill="none" stroke="#000" stroke-width="2.1"/>
<circle cx="99.0" cy="444.8" r="3.3" fill="none" stroke="#000" stroke-width="2.2"/>
<circle cx="99.0" cy="444.8" r="3.3" fill="none" stroke="#000" stroke-width="2.2"/>
<circle cx="99.0" cy="445.2" r="3.3" fill="none" stroke="#000" stroke-width="2.2"/>
<path d="M110.4 441.3L113.9 444.8L110.4 448.3L106.9 444.8Z" fill="none" stroke="#000" stroke-width="1.9"/>
<path d="M110.4 441.3L113.9 444.8L110.4 448.3L106.9 444.8Z" fill="none" stroke="#000" stroke-width="1.9"/>
<path d="M110.4 440.9L113.9 444.4L110.4 447.9L106.9 444.4Z" fill="none" stroke="#000" stroke-width="1.9"/>
<path d="M125.8 444.4L123.8 447.5L119.8 447.5L117.8 444.4L119.8 441.3L123.8 441.3Z" fill="none" stroke="#000" stroke-width="2.3" stroke-linejoin="miter"/>
<path d="M125.8 444.4L123.8 447.5L119.8 447.5L117.8 444.4L119.8 441.3L123.8 441.3Z" fill="none" stroke="#000" stroke-width="2.3" stroke-linejoin="miter"/>
<path d="M125.8 444.0L123.8 447.1L119.8 447.1L117.8 444.0L119.8 440.9L123.8 440.9Z" fill="none" stroke="#000" stroke-width="2.3" stroke-linejoin="miter"/>
<path d="M129.9 441.7L136.5 441.7L133.2 447.7Z" fill="none" stroke="#000" stroke-width="1.9"/>
<path d="M129.9 441.7L136.5 441.7L133.2 447.7Z" fill="none" stroke="#000" stroke-width="1.9"/>
<path d="M129.9 441.3L136.5 441.3L133.2 447.3Z" fill="none" stroke="#000" stroke-width="1.9"/>
<path d="M141.3 445.2L147.7 445.2M144.5 442.0L144.5 448.4" stroke="#000" stroke-width="2.2" fill="none"/>
<path d="M141.3 445.2L147.7 445.2M144.5 442.0L144.5 448.4" stroke="#000" stroke-width="2.2" fill="none"/>
<path d="M141.3 444.4L147.7 444.4M144.5 441.2L144.5 447.6" stroke="#000" stroke-width="2.2" fill="none"/>
<path d="M163.3 426.2L166.6 431.9L160.0 431.9Z" fill="#000"/>
<path d="M163.3 439.5L166.6 445.3L160.0 445.3Z" fill="#000"/>
<path d="M163.3 440.3L166.6 446.1L160.0 446.1Z" fill="#000"/>
<rect x="171.5" y="417.3" width="6.3" height="6.3" fill="none" stroke="#000" stroke-width="2.1"/>
<rect x="171.5" y="434.8" width="6.3" height="6.3" fill="none" stroke="#000" stroke-width="2.1"/>
<rect x="171.5" y="436.4" width="6.3" height="6.3" fill="none" stroke="#000" stroke-width="2.1"/>
<circle cx="186.1" cy="445.4" r="3.3" fill="none" stroke="#000" stroke-width="2.2"/>
<circle cx="186.1" cy="445.4" r="3.3" fill="none" stroke="#000" stroke-width="2.2"/>
<circle cx="186.1" cy="445.2" r="3.3" fill="none" stroke="#000" stroke-width="2.2"/>
<path d="M197.4 441.2L200.9 444.7L197.4 448.2L193.9 444.7Z" fill="none" stroke="#000" stroke-width="1.9"/>
<path d="M197.4 441.2L200.9 444.7L197.4 448.2L193.9 444.7Z" fill="none" stroke="#000" stroke-width="1.9"/>
<path d="M197.4 441.2L200.9 444.7L197.4 448.2L193.9 444.7Z" fill="none" stroke="#000" stroke-width="1.9"/>
<path d="M212.8 443.2L210.8 446.3L206.8 446.3L204.8 443.2L206.8 440.1L210.8 440.1Z" fill="none" stroke="#000" stroke-width="2.3" stroke-linejoin="miter"/>
<path d="M212.8 444.0L210.8 447.1L206.8 447.1L204.8 444.0L206.8 440.9L210.8 440.9Z" fill="none" stroke="#000" stroke-width="2.3" stroke-linejoin="miter"/>
<path d="M212.8 444.4L210.8 447.5L206.8 447.5L204.8 444.4L206.8 441.3L210.8 441.3Z" fill="none" stroke="#000" stroke-width="2.3" stroke-linejoin="miter"/>
<path d="M216.9 441.3L223.5 441.3L220.2 447.3Z" fill="none" stroke="#000" stroke-width="1.9"/>
<path d="M216.9 441.3L223.5 441.3L220.2 447.3Z" fill="none" stroke="#000" stroke-width="1.9"/>
<path d="M216.9 441.7L223.5 441.7L220.2 447.7Z" fill="none" stroke="#000" stroke-width="1.9"/>
<path d="M228.4 444.7L234.8 444.7M231.6 441.5L231.6 447.9" stroke="#000" stroke-width="2.2" fill="none"/>
<path d="M228.4 444.7L234.8 444.7M231.6 441.5L231.6 447.9" stroke="#000" stroke-width="2.2" fill="none"/>
<path d="M228.4 445.2L234.8 445.2M231.6 442.0L231.6 448.4" stroke="#000" stroke-width="2.2" fill="none"/>
<path d="M250.4 405.8L253.7 411.6L247.1 411.6Z" fill="#000"/>
<path d="M250.4 424.2L253.7 430.0L247.1 430.0Z" fill="#000"/>
<path d="M250.4 433.1L253.7 438.8L247.1 438.8Z" fill="#000"/>
<rect x="258.6" y="414.8" width="6.3" height="6.3" fill="none" stroke="#000" stroke-width="2.1"/>
<rect x="258.6" y="416.4" width="6.3" height="6.3" fill="none" stroke="#000" stroke-width="2.1"/>
<rect x="258.6" y="420.4" width="6.3" height="6.3" fill="none" stroke="#000" stroke-width="2.1"/>
<circle cx="273.1" cy="416.6" r="3.3" fill="none" stroke="#000" stroke-width="2.2"/>
<circle cx="273.1" cy="434.0" r="3.3" fill="none" stroke="#000" stroke-width="2.2"/>
<circle cx="273.1" cy="441.6" r="3.3" fill="none" stroke="#000" stroke-width="2.2"/>
<path d="M284.5 441.7L288.0 445.2L284.5 448.7L281.0 445.2Z" fill="none" stroke="#000" stroke-width="1.9"/>
<path d="M284.5 441.7L288.0 445.2L284.5 448.7L281.0 445.2Z" fill="none" stroke="#000" stroke-width="1.9"/>
<path d="M284.5 441.7L288.0 445.2L284.5 448.7L281.0 445.2Z" fill="none" stroke="#000" stroke-width="1.9"/>
<path d="M299.9 438.4L297.9 441.5L293.9 441.5L291.9 438.4L293.9 435.3L297.9 435.3Z" fill="none" stroke="#000" stroke-width="2.3" stroke-linejoin="miter"/>
<path d="M299.9 444.0L297.9 447.1L293.9 447.1L291.9 444.0L293.9 440.9L297.9 440.9Z" fill="none" stroke="#000" stroke-width="2.3" stroke-linejoin="miter"/>
<path d="M299.9 444.4L297.9 447.5L293.9 447.5L291.9 444.4L293.9 441.3L297.9 441.3Z" fill="none" stroke="#000" stroke-width="2.3" stroke-linejoin="miter"/>
<path d="M304.0 440.9L310.6 440.9L307.3 446.9Z" fill="none" stroke="#000" stroke-width="1.9"/>
<path d="M304.0 440.9L310.6 440.9L307.3 446.9Z" fill="none" stroke="#000" stroke-width="1.9"/>
<path d="M304.0 441.3L310.6 441.3L307.3 447.3Z" fill="none" stroke="#000" stroke-width="1.9"/>
<path d="M315.4 445.2L321.8 445.2M318.6 442.0L318.6 448.4" stroke="#000" stroke-width="2.2" fill="none"/>
<path d="M315.4 445.2L321.8 445.2M318.6 442.0L318.6 448.4" stroke="#000" stroke-width="2.2" fill="none"/>
<path d="M315.4 444.4L321.8 444.4M318.6 441.2L318.6 447.6" stroke="#000" stroke-width="2.2" fill="none"/>
<path d="M337.4 405.8L340.7 411.6L334.1 411.6Z" fill="#000"/>
<path d="M337.4 413.8L340.7 419.6L334.1 419.6Z" fill="#000"/>
<path d="M337.4 414.6L340.7 420.4L334.1 420.4Z" fill="#000"/>
<rect x="345.6" y="408.4" width="6.3" height="6.3" fill="none" stroke="#000" stroke-width="2.1"/>
<rect x="345.6" y="410.8" width="6.3" height="6.3" fill="none" stroke="#000" stroke-width="2.1"/>
<rect x="345.6" y="411.6" width="6.3" height="6.3" fill="none" stroke="#000" stroke-width="2.1"/>
<circle cx="360.2" cy="409.9" r="3.3" fill="none" stroke="#000" stroke-width="2.2"/>
<circle cx="360.2" cy="426.7" r="3.3" fill="none" stroke="#000" stroke-width="2.2"/>
<circle cx="360.2" cy="433.5" r="3.3" fill="none" stroke="#000" stroke-width="2.2"/>
<path d="M371.5 441.7L375.0 445.2L371.5 448.7L368.0 445.2Z" fill="none" stroke="#000" stroke-width="1.9"/>
<path d="M371.5 441.7L375.0 445.2L371.5 448.7L368.0 445.2Z" fill="none" stroke="#000" stroke-width="1.9"/>
<path d="M371.5 441.7L375.0 445.2L371.5 448.7L368.0 445.2Z" fill="none" stroke="#000" stroke-width="1.9"/>
<path d="M386.9 422.7L384.9 425.9L380.9 425.9L378.9 422.7L380.9 419.6L384.9 419.6Z" fill="none" stroke="#000" stroke-width="2.3" stroke-linejoin="miter"/>
<path d="M386.9 430.8L384.9 433.9L380.9 433.9L378.9 430.8L380.9 427.6L384.9 427.6Z" fill="none" stroke="#000" stroke-width="2.3" stroke-linejoin="miter"/>
<path d="M386.9 436.8L384.9 439.9L380.9 439.9L378.9 436.8L380.9 433.7L384.9 433.7Z" fill="none" stroke="#000" stroke-width="2.3" stroke-linejoin="miter"/>
<path d="M391.0 438.5L397.6 438.5L394.3 444.5Z" fill="none" stroke="#000" stroke-width="1.9"/>
<path d="M391.0 438.9L397.6 438.9L394.3 444.9Z" fill="none" stroke="#000" stroke-width="1.9"/>
<path d="M391.0 439.7L397.6 439.7L394.3 445.7Z" fill="none" stroke="#000" stroke-width="1.9"/>
<path d="M402.5 444.4L408.9 444.4M405.7 441.2L405.7 447.6" stroke="#000" stroke-width="2.2" fill="none"/>
<path d="M402.5 444.4L408.9 444.4M405.7 441.2L405.7 447.6" stroke="#000" stroke-width="2.2" fill="none"/>
<path d="M402.5 443.6L408.9 443.6M405.7 440.4L405.7 446.8" stroke="#000" stroke-width="2.2" fill="none"/>
<path d="M424.5 397.0L427.8 402.8L421.2 402.8Z" fill="#000"/>
<path d="M424.5 405.8L427.8 411.6L421.2 411.6Z" fill="#000"/>
<path d="M424.5 406.6L427.8 412.4L421.2 412.4Z" fill="#000"/>
<rect x="432.7" y="406.8" width="6.3" height="6.3" fill="none" stroke="#000" stroke-width="2.1"/>
<rect x="432.7" y="407.6" width="6.3" height="6.3" fill="none" stroke="#000" stroke-width="2.1"/>
<rect x="432.7" y="408.4" width="6.3" height="6.3" fill="none" stroke="#000" stroke-width="2.1"/>
<circle cx="447.2" cy="385.0" r="3.3" fill="none" stroke="#000" stroke-width="2.2"/>
<circle cx="447.2" cy="406.7" r="3.3" fill="none" stroke="#000" stroke-width="2.2"/>
<circle cx="447.2" cy="409.5" r="3.3" fill="none" stroke="#000" stroke-width="2.2"/>
<path d="M458.6 432.9L462.1 436.4L458.6 439.9L455.1 436.4Z" fill="none" stroke="#000" stroke-width="1.9"/>
<path d="M458.6 436.9L462.1 440.4L458.6 443.9L455.1 440.4Z" fill="none" stroke="#000" stroke-width="1.9"/>
<path d="M458.6 440.6L462.1 444.1L458.6 447.6L455.1 444.1Z" fill="none" stroke="#000" stroke-width="1.9"/>
<path d="M474.0 396.5L472.0 399.6L468.0 399.6L466.0 396.5L468.0 393.4L472.0 393.4Z" fill="none" stroke="#000" stroke-width="2.3" stroke-linejoin="miter"/>
<path d="M474.0 409.5L472.0 412.6L468.0 412.6L466.0 409.5L468.0 406.4L472.0 406.4Z" fill="none" stroke="#000" stroke-width="2.3" stroke-linejoin="miter"/>
<path d="M474.0 417.9L472.0 421.0L468.0 421.0L466.0 417.9L468.0 414.8L472.0 414.8Z" fill="none" stroke="#000" stroke-width="2.3" stroke-linejoin="miter"/>
<path d="M478.1 428.1L484.7 428.1L481.4 434.1Z" fill="none" stroke="#000" stroke-width="1.9"/>
<path d="M478.1 428.9L484.7 428.9L481.4 434.9Z" fill="none" stroke="#000" stroke-width="1.9"/>
<path d="M478.1 430.5L484.7 430.5L481.4 436.5Z" fill="none" stroke="#000" stroke-width="1.9"/>
<path d="M489.5 442.0L495.9 442.0M492.7 438.8L492.7 445.2" stroke="#000" stroke-width="2.2" fill="none"/>
<path d="M489.5 442.0L495.9 442.0M492.7 438.8L492.7 445.2" stroke="#000" stroke-width="2.2" fill="none"/>
<path d="M489.5 441.2L495.9 441.2M492.7 438.0L492.7 444.4" stroke="#000" stroke-width="2.2" fill="none"/>
<path d="M511.5 394.6L514.8 400.3L508.2 400.3Z" fill="#000"/>
<path d="M511.5 404.2L514.8 410.0L508.2 410.0Z" fill="#000"/>
<path d="M511.5 405.8L514.8 411.6L508.2 411.6Z" fill="#000"/>
<rect x="519.7" y="403.5" width="6.3" height="6.3" fill="none" stroke="#000" stroke-width="2.1"/>
<rect x="519.7" y="405.9" width="6.3" height="6.3" fill="none" stroke="#000" stroke-width="2.1"/>
<rect x="519.7" y="408.4" width="6.3" height="6.3" fill="none" stroke="#000" stroke-width="2.1"/>
<circle cx="534.3" cy="381.0" r="3.3" fill="none" stroke="#000" stroke-width="2.2"/>
<circle cx="534.3" cy="396.3" r="3.3" fill="none" stroke="#000" stroke-width="2.2"/>
<circle cx="534.3" cy="403.1" r="3.3" fill="none" stroke="#000" stroke-width="2.2"/>
<path d="M545.6 420.4L549.1 423.9L545.6 427.4L542.1 423.9Z" fill="none" stroke="#000" stroke-width="1.9"/>
<path d="M545.6 431.3L549.1 434.8L545.6 438.3L542.1 434.8Z" fill="none" stroke="#000" stroke-width="1.9"/>
<path d="M545.6 432.1L549.1 435.6L545.6 439.1L542.1 435.6Z" fill="none" stroke="#000" stroke-width="1.9"/>
<path d="M561.0 399.5L559.0 402.6L555.0 402.6L553.0 399.5L555.0 396.4L559.0 396.4Z" fill="none" stroke="#000" stroke-width="2.3" stroke-linejoin="miter"/>
<path d="M561.0 405.9L559.0 409.0L555.0 409.0L553.0 405.9L555.0 402.8L559.0 402.8Z" fill="none" stroke="#000" stroke-width="2.3" stroke-linejoin="miter"/>
<path d="M561.0 413.1L559.0 416.2L555.0 416.2L553.0 413.1L555.0 410.0L559.0 410.0Z" fill="none" stroke="#000" stroke-width="2.3" stroke-linejoin="miter"/>
<path d="M565.1 416.9L571.7 416.9L568.4 422.8Z" fill="none" stroke="#000" stroke-width="1.9"/>
<path d="M565.1 421.7L571.7 421.7L568.4 427.6Z" fill="none" stroke="#000" stroke-width="1.9"/>
<path d="M565.1 425.7L571.7 425.7L568.4 431.6Z" fill="none" stroke="#000" stroke-width="1.9"/>
<path d="M576.6 417.5L583.0 417.5M579.8 414.3L579.8 420.7" stroke="#000" stroke-width="2.2" fill="none"/>
<path d="M576.6 422.3L583.0 422.3M579.8 419.1L579.8 425.5" stroke="#000" stroke-width="2.2" fill="none"/>
<path d="M576.6 423.5L583.0 423.5M579.8 420.3L579.8 426.7" stroke="#000" stroke-width="2.2" fill="none"/>
<path d="M598.6 389.8L601.9 395.5L595.3 395.5Z" fill="#000"/>
<path d="M598.6 393.0L601.9 398.7L595.3 398.7Z" fill="#000"/>
<path d="M598.6 395.4L601.9 401.1L595.3 401.1Z" fill="#000"/>
<rect x="606.8" y="389.9" width="6.3" height="6.3" fill="none" stroke="#000" stroke-width="2.1"/>
<rect x="606.8" y="393.9" width="6.3" height="6.3" fill="none" stroke="#000" stroke-width="2.1"/>
<rect x="606.8" y="404.3" width="6.3" height="6.3" fill="none" stroke="#000" stroke-width="2.1"/>
<circle cx="621.3" cy="378.9" r="3.3" fill="none" stroke="#000" stroke-width="2.2"/>
<circle cx="621.3" cy="390.7" r="3.3" fill="none" stroke="#000" stroke-width="2.2"/>
<circle cx="621.3" cy="399.5" r="3.3" fill="none" stroke="#000" stroke-width="2.2"/>
<path d="M632.7 392.0L636.2 395.5L632.7 399.0L629.2 395.5Z" fill="none" stroke="#000" stroke-width="1.9"/>
<path d="M632.7 398.8L636.2 402.3L632.7 405.8L629.2 402.3Z" fill="none" stroke="#000" stroke-width="1.9"/>
<path d="M632.7 407.2L636.2 410.7L632.7 414.2L629.2 410.7Z" fill="none" stroke="#000" stroke-width="1.9"/>
<path d="M648.1 393.1L646.1 396.2L642.1 396.2L640.1 393.1L642.1 389.9L646.1 389.9Z" fill="none" stroke="#000" stroke-width="2.3" stroke-linejoin="miter"/>
<path d="M648.1 403.5L646.1 406.6L642.1 406.6L640.1 403.5L642.1 400.4L646.1 400.4Z" fill="none" stroke="#000" stroke-width="2.3" stroke-linejoin="miter"/>
<path d="M648.1 407.9L646.1 411.0L642.1 411.0L640.1 407.9L642.1 404.8L646.1 404.8Z" fill="none" stroke="#000" stroke-width="2.3" stroke-linejoin="miter"/>
<path d="M652.2 375.2L658.8 375.2L655.5 381.1Z" fill="none" stroke="#000" stroke-width="1.9"/>
<path d="M652.2 393.2L658.8 393.2L655.5 399.2Z" fill="none" stroke="#000" stroke-width="1.9"/>
<path d="M652.2 395.2L658.8 395.2L655.5 401.2Z" fill="none" stroke="#000" stroke-width="1.9"/>
<path d="M663.6 356.2L670.0 356.2M666.8 353.0L666.8 359.4" stroke="#000" stroke-width="2.2" fill="none"/>
<path d="M663.6 385.0L670.0 385.0M666.8 381.8L666.8 388.2" stroke="#000" stroke-width="2.2" fill="none"/>
<path d="M663.6 401.1L670.0 401.1M666.8 397.9L666.8 404.3" stroke="#000" stroke-width="2.2" fill="none"/>
<path d="M67.8 287.5L67.8 449.9" stroke="#000" stroke-width="1.5" fill="none"/>
<path d="M67.0 449.2L676.7 449.2" stroke="#000" stroke-width="1.5" fill="none"/>
<text x="315.7" y="506.3" font-size="13.4" font-weight="bold">% v/v of CM<tspan font-size="10.2" dy="-5.6">R</tspan><tspan dy="5.6" font-size="1">&#8203;</tspan>/CM<tspan font-size="10.2" dy="-5.6">P</tspan><tspan dy="5.6" font-size="1">&#8203;</tspan></text>
<path d="M250.1 394.1L250.1 358.0L304.4 358.0L304.4 430.0" stroke="#000" stroke-width="2.1" fill="none" stroke-linejoin="miter"/>
<path d="M261.3 408.5L263.0 388.1L304.4 388.1" stroke="#000" stroke-width="2.1" fill="none" stroke-linejoin="miter"/>
<path d="M279.5 430.0L326.0 430.0" stroke="#000" stroke-width="2.1" fill="none"/>
<text x="276.6" y="361.2" font-size="20" font-weight="normal" text-anchor="middle" letter-spacing="1" stroke="#000" stroke-width="0.3">**</text>
<text x="281.0" y="390.7" font-size="20" font-weight="normal" text-anchor="middle" letter-spacing="1" stroke="#000" stroke-width="0.3">**</text>
<path d="M337.3 393.8L337.3 343.1L400.3 343.1L400.3 368.0" stroke="#000" stroke-width="2.1" fill="none" stroke-linejoin="miter"/>
<path d="M392.4 368.0L410.6 368.0" stroke="#000" stroke-width="2.1" fill="none"/>
<path d="M375.6 369.4L375.6 358.6L400.3 358.6" stroke="#000" stroke-width="2.1" fill="none" stroke-linejoin="miter"/>
<path d="M350.2 396.3L350.2 386.0L389.3 386.0L389.3 408.7" stroke="#000" stroke-width="2.1" fill="none" stroke-linejoin="miter"/>
<path d="M370.0 408.7L409.0 408.7" stroke="#000" stroke-width="2.1" fill="none"/>
<text x="370.5" y="344.3" font-size="20" font-weight="normal" text-anchor="middle" letter-spacing="1" stroke="#000" stroke-width="0.3">***</text>
<text x="385.1" y="361.7" font-size="20" font-weight="normal" text-anchor="middle" letter-spacing="1" stroke="#000" stroke-width="0.3">***</text>
<text x="367.9" y="387.5" font-size="20" font-weight="normal" text-anchor="middle" letter-spacing="1" stroke="#000" stroke-width="0.3">*</text>
<path d="M424.9 386.5L424.9 345.0L473.2 345.0L473.2 381.7" stroke="#000" stroke-width="2.1" fill="none" stroke-linejoin="miter"/>
<path d="M435.0 396.5L435.0 357.3L473.2 357.3" stroke="#000" stroke-width="2.1" fill="none" stroke-linejoin="miter"/>
<path d="M459.0 425.6L459.0 381.7L488.8 381.7L488.8 417.8" stroke="#000" stroke-width="2.1" fill="none" stroke-linejoin="miter"/>
<path d="M478.2 417.8L500.7 417.8" stroke="#000" stroke-width="2.1" fill="none"/>
<text x="447.7" y="348.2" font-size="20" font-weight="normal" text-anchor="middle" letter-spacing="1" stroke="#000" stroke-width="0.3">***</text>
<text x="452.9" y="361.3" font-size="20" font-weight="normal" text-anchor="middle" letter-spacing="1" stroke="#000" stroke-width="0.3">**</text>
<path d="M512.7 388.0L512.7 291.8L559.3 291.8L559.3 305.0" stroke="#000" stroke-width="2.1" fill="none" stroke-linejoin="miter"/>
<path d="M546.8 316.3L546.8 305.0L575.7 305.0L575.7 318.0" stroke="#000" stroke-width="2.1" fill="none" stroke-linejoin="miter"/>
<path d="M565.4 318.0L587.8 318.0" stroke="#000" stroke-width="2.1" fill="none"/>
<path d="M522.3 336.6L522.3 326.8L568.5 326.8L568.5 407.0" stroke="#000" stroke-width="2.1" fill="none" stroke-linejoin="miter"/>
<path d="M522.3 354.3L522.3 344.0L546.6 344.0L546.6 411.4" stroke="#000" stroke-width="2.1" fill="none" stroke-linejoin="miter"/>
<path d="M522.8 393.4L522.8 359.7L534.7 359.7L534.7 366.4" stroke="#000" stroke-width="2.1" fill="none" stroke-linejoin="miter"/>
<text x="534.5" y="295.1" font-size="20" font-weight="normal" text-anchor="middle" letter-spacing="1" stroke="#000" stroke-width="0.3">*</text>
<text x="531.1" y="328.2" font-size="20" font-weight="normal" text-anchor="middle" letter-spacing="1" stroke="#000" stroke-width="0.3">*</text>
<text x="538.7" y="348.1" font-size="20" font-weight="normal" text-anchor="middle" letter-spacing="1" stroke="#000" stroke-width="0.3">***</text>
<text x="530.9" y="364.0" font-size="20" font-weight="normal" text-anchor="middle" letter-spacing="1" stroke="#000" stroke-width="0.3">*</text>
<path d="M611.5 382.4L611.5 314.7L665.9 314.7L665.9 342.5" stroke="#000" stroke-width="2.1" fill="none" stroke-linejoin="miter"/>
<text x="639.0" y="317.1" font-size="20" font-weight="normal" text-anchor="middle" letter-spacing="1" stroke="#000" stroke-width="0.3">**</text>
<path d="M62.9 520.6L66.2 526.4L59.6 526.4Z" fill="#000"/>
<text x="82" y="528.5" font-size="13.4">CM<tspan font-size="10.5" dy="-5.3">R</tspan><tspan dy="5.3" font-size="1">&#8203;</tspan></text>
<rect x="120.9" y="520.4" width="6.4" height="6.4" fill="none" stroke="#000" stroke-width="2.2"/>
<text x="143.5" y="528.5" font-size="13.4">Plastic 1 (CM<tspan font-size="10.5" dy="-5.3">P</tspan><tspan dy="5.3" font-size="1">&#8203;</tspan>)</text>
<circle cx="245.6" cy="523.6" r="2.9" fill="none" stroke="#000" stroke-width="2.6"/>
<text x="264.3" y="528.5" font-size="13.4" font-weight="normal" text-anchor="start">Plastic 2</text>
<path d="M337.4 519.9L341.1 523.6L337.4 527.3L333.7 523.6Z" fill="none" stroke="#000" stroke-width="2.4"/>
<text x="355.7" y="528.5" font-size="13.4" font-weight="normal" text-anchor="start">Plastic 3</text>
<path d="M428.5 523.6L426.6 526.6L422.7 526.6L420.7 523.6L422.7 520.6L426.6 520.6Z" fill="none" stroke="#000" stroke-width="2.3" stroke-linejoin="miter"/>
<text x="443.3" y="528.5" font-size="13.4" font-weight="normal" text-anchor="start">Plastic 4</text>
<path d="M510.9 520.8L517.9 520.8L514.4 527.1Z" fill="none" stroke="#000" stroke-width="2.4"/>
<text x="533.3" y="528.5" font-size="13.4" font-weight="normal" text-anchor="start">Plastic 5</text>
<path d="M598.1 523.6L604.5 523.6M601.3 520.4L601.3 526.8" stroke="#000" stroke-width="2.3" fill="none"/>
<text x="620.7" y="528.5" font-size="13.4" font-weight="normal" text-anchor="start">Plastic 6</text>
</svg></body></html>
